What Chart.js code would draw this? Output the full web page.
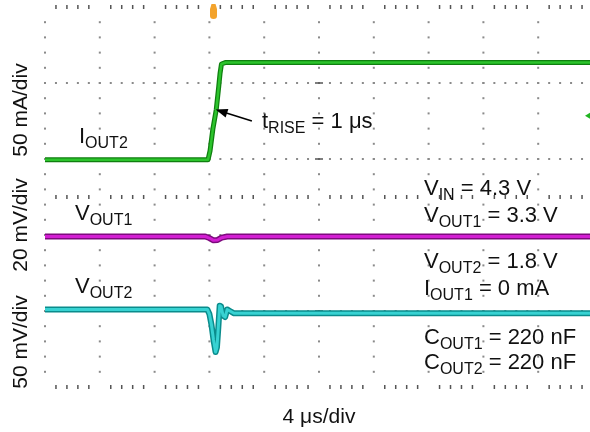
<!DOCTYPE html>
<html>
<head>
<meta charset="utf-8">
<script src="https://cdn.jsdelivr.net/npm/chart.js@4.4.1/dist/chart.umd.min.js"></script>
<style>
  html, body { margin: 0; padding: 0; background: #fff; overflow: hidden; }
  #wrap { width: 600px; height: 432px; }
</style>
</head>
<body>
<div id="wrap"><canvas id="scope" width="600" height="432"></canvas></div>
<script>
// scope screen : 10 x 5 divisions, 4 us/div
const X_DIVS = 10, Y_DIVS = 5, US_PER_DIV = 4;
const TRIG_US = 12.3;      // trigger marker (top)
const MARK_DIV = 3.57;     // channel marker on right edge

// I_OUT2 load step, 50 mA/div
const ioutTime = [0, 11.9, 12.05, 12.25, 12.5, 12.68, 12.78, 12.88, 13.2, 40];
const ioutMA   = [0, 0, 6, 20, 33, 48, 57, 63, 64, 64];

// V_OUT1 (ac), 20 mV/div
const vout1Time = [0, 11.7, 12.0, 12.3, 12.6, 12.9, 13.3, 40];
const vout1MV   = [0, 0, -0.4, -1.0, -0.9, -0.3, 0, 0];

// V_OUT2 (ac), 50 mV/div
const vout2Time = [0, 11.85, 12.0, 12.15, 12.3, 12.45, 12.55, 12.65, 12.75, 12.85, 13.0, 13.15, 13.3, 13.5, 13.8, 40];
const vout2MV   = [0, 0, -3, -10, -20, -28, -25, -12, 2.5, 2, -4, -5, 0, -1, -2.5, -2.5];

// units per div and ground level (div from bottom)
const IOUT_PER = 50, IOUT_ZERO = 2.99;
const V1_PER = 20, V1_ZERO = 1.98;
const V2_PER = 50, V2_ZERO = 1.02;

const FONT = '"Liberation Sans", Arial, Helvetica, sans-serif';

function toPts(ts, vals, per, zero) {
  return ts.map((t, i) => ({ x: t, y: zero + vals[i] / per }));
}

function trace(pts, color, width, order) {
  return {
    data: pts, borderColor: color, borderWidth: width,
    pointRadius: 0, tension: 0, fill: false, order: order,
    borderJoinStyle: 'round'
  };
}

const iPts = toPts(ioutTime, ioutMA, IOUT_PER, IOUT_ZERO);
const v1Pts = toPts(vout1Time, vout1MV, V1_PER, V1_ZERO);
const v2Pts = toPts(vout2Time, vout2MV, V2_PER, V2_ZERO);

// text with subscripts : parts = [[text, isSub], ...]
function txt(ctx, parts, x, y) {
  let cx = x;
  parts.forEach(([s, sub]) => {
    ctx.font = (sub ? '16px ' : '22px ') + FONT;
    ctx.fillText(s, cx, sub ? y + 5 : y);
    cx += ctx.measureText(s).width;
  });
}

const gridPlugin = {
  id: 'scopeGrid',
  beforeDatasetsDraw(chart) {
    const ctx = chart.ctx, xs = chart.scales.x, ys = chart.scales.y;
    ctx.save();
    ctx.fillStyle = '#8a8a8a';
    // dotted columns
    for (let i = 0; i <= X_DIVS; i++) {
      const x = xs.getPixelForValue(i * US_PER_DIV);
      for (let j = 1; j < Y_DIVS * 5; j++) {
        const y = ys.getPixelForValue(j / 5);
        ctx.fillRect(x - 1, y - 1, 2, 2);
      }
    }
    // dotted rows
    for (let j = 1; j < Y_DIVS; j++) {
      const y = ys.getPixelForValue(j);
      for (let i = 0; i <= X_DIVS * 5; i++) {
        const x = xs.getPixelForValue(i * US_PER_DIV / 5);
        ctx.fillRect(x - 1, y - 1, 2, 2);
      }
    }
    // tick rows : bottom, centre, top
    ctx.fillStyle = '#555';
    [0, Y_DIVS / 2, Y_DIVS].forEach(v => {
      const y = ys.getPixelForValue(v);
      for (let i = 1; i < X_DIVS * 5; i++) {
        if (i % 5 === 0) continue;
        const x = xs.getPixelForValue(i * US_PER_DIV / 5);
        ctx.fillRect(x - 0.75, y - 2, 1.5, 4);
      }
    });
    // centre column ticks
    const xc = xs.getPixelForValue(X_DIVS / 2 * US_PER_DIV);
    for (let j = 1; j < Y_DIVS; j++) {
      const y = ys.getPixelForValue(j);
      ctx.fillRect(xc - 4, y - 0.75, 8, 1.5);
    }
    ctx.restore();
  },
  afterDatasetsDraw(chart) {
    const ctx = chart.ctx, xs = chart.scales.x, ys = chart.scales.y;
    const area = chart.chartArea;
    ctx.save();

    // trigger marker
    const tx = xs.getPixelForValue(TRIG_US);
    ctx.fillStyle = '#f3a32c';
    ctx.beginPath();
    ctx.moveTo(tx - 2, area.top - 3);
    ctx.lineTo(tx + 2, area.top - 3);
    ctx.lineTo(tx + 3.5, area.top + 2);
    ctx.lineTo(tx + 3.5, area.top + 9);
    ctx.quadraticCurveTo(tx + 3.5, area.top + 12, tx, area.top + 12);
    ctx.quadraticCurveTo(tx - 3.5, area.top + 12, tx - 3.5, area.top + 9);
    ctx.lineTo(tx - 3.5, area.top + 2);
    ctx.closePath();
    ctx.fill();

    // channel marker right edge
    const my = ys.getPixelForValue(MARK_DIV);
    ctx.fillStyle = '#22b422';
    ctx.beginPath();
    ctx.moveTo(585, my);
    ctx.lineTo(590, my - 3);
    ctx.lineTo(590, my + 3);
    ctx.closePath();
    ctx.fill();

    // arrow to the rising edge
    const tipX = xs.getPixelForValue(12.45), tipY = ys.getPixelForValue(IOUT_ZERO + 33 / IOUT_PER);
    const tailX = xs.getPixelForValue(15.1), tailY = ys.getPixelForValue(IOUT_ZERO + 25.5 / IOUT_PER);
    const ang = Math.atan2(tipY - tailY, tipX - tailX);
    ctx.strokeStyle = '#000';
    ctx.fillStyle = '#000';
    ctx.lineWidth = 1.6;
    ctx.beginPath();
    ctx.moveTo(tailX, tailY);
    ctx.lineTo(tipX - 8 * Math.cos(ang), tipY - 8 * Math.sin(ang));
    ctx.stroke();
    ctx.beginPath();
    ctx.moveTo(tipX, tipY);
    ctx.lineTo(tipX - 12 * Math.cos(ang) + 4.5 * Math.sin(ang), tipY - 12 * Math.sin(ang) - 4.5 * Math.cos(ang));
    ctx.lineTo(tipX - 12 * Math.cos(ang) - 4.5 * Math.sin(ang), tipY - 12 * Math.sin(ang) + 4.5 * Math.cos(ang));
    ctx.closePath();
    ctx.fill();

    // labels
    ctx.fillStyle = '#111';
    ctx.textAlign = 'left';
    ctx.textBaseline = 'alphabetic';
    txt(ctx, [['I'], ['OUT2', 1]], 79, 143);
    txt(ctx, [['t'], ['RISE', 1], [' = 1 \u03bcs']], 262, 128);
    txt(ctx, [['V'], ['OUT1', 1]], 75, 220);
    txt(ctx, [['V'], ['OUT2', 1]], 75, 293);

    const rx = 424;
    txt(ctx, [['V'], ['IN', 1], [' = 4.3 V']], rx, 195);
    txt(ctx, [['V'], ['OUT1', 1], [' = 3.3 V']], rx, 222);
    txt(ctx, [['V'], ['OUT2', 1], [' = 1.8 V']], rx, 268);
    txt(ctx, [['I'], ['OUT1', 1], [' = 0 mA']], rx, 295);
    txt(ctx, [['C'], ['OUT1', 1], [' = 220 nF']], rx, 344);
    txt(ctx, [['C'], ['OUT2', 1], [' = 220 nF']], rx, 369);

    // axis texts
    ctx.font = '21px ' + FONT;
    ctx.textAlign = 'center';
    ctx.fillText('4 \u03bcs/div', xs.getPixelForValue(X_DIVS / 2 * US_PER_DIV), 423);
    [['50 mA/div', 110], ['20 mV/div', 225], ['50 mV/div', 342]].forEach(([s, cy]) => {
      ctx.save();
      ctx.translate(27, cy);
      ctx.rotate(-Math.PI / 2);
      ctx.fillText(s, 0, 0);
      ctx.restore();
    });
    ctx.restore();
  }
};

new Chart(document.getElementById('scope'), {
  type: 'line',
  data: {
    datasets: [
      trace(iPts, '#0f7f0f', 5, 6),
      trace(iPts, '#2cc42c', 2.5, 5),
      trace(v1Pts, '#7d0a7d', 6, 4),
      trace(v1Pts, '#d21ed2', 3, 3),
      trace(v2Pts, '#0a8c8c', 6, 2),
      trace(v2Pts, '#37d2d2', 3, 1)
    ]
  },
  options: {
    responsive: false,
    animation: false,
    events: [],
    layout: { padding: { left: 45, top: 7, right: 7, bottom: 45 } },
    plugins: { legend: { display: false }, tooltip: { enabled: false } },
    scales: {
      x: { type: 'linear', min: 0, max: X_DIVS * US_PER_DIV, display: false },
      y: { type: 'linear', min: 0, max: Y_DIVS, display: false }
    }
  },
  plugins: [gridPlugin]
});
</script>
</body>
</html>
